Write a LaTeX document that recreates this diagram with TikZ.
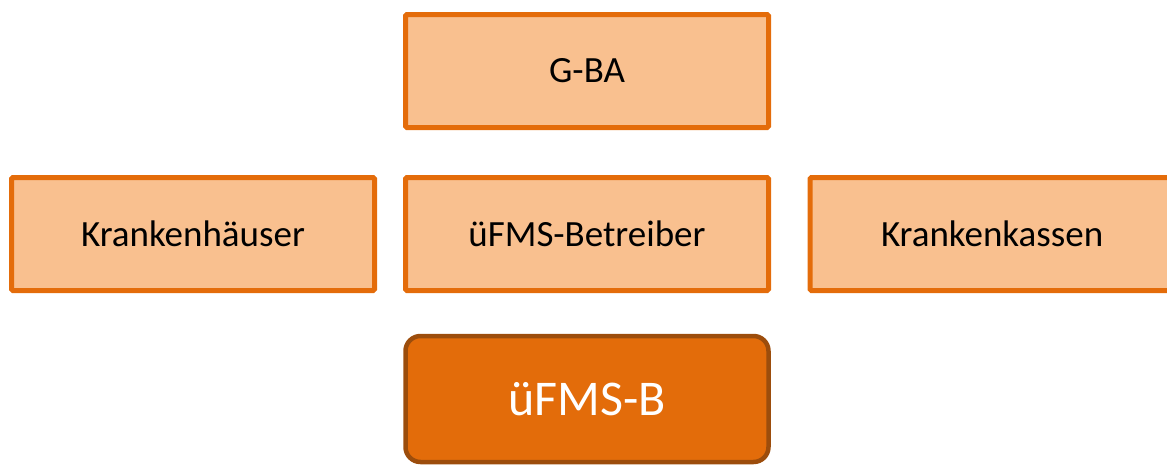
\documentclass[tikz,border=0pt]{standalone}
\usepackage{fontspec}
\setmainfont{Carlito}
\definecolor{lightfill}{HTML}{F9C08F}
\definecolor{orangeline}{HTML}{E46C0A}
\definecolor{darkfill}{HTML}{E36C0A}
\definecolor{brownline}{HTML}{9C4D0C}
\begin{document}
\begin{tikzpicture}[x=1pt,y=-1pt,
  lightbox/.style={draw=orangeline, fill=lightfill, line width=5pt, rounded corners=1.5pt,
    minimum width=363pt, minimum height=113pt, inner sep=0pt, font=\fontsize{37}{44}\selectfont, text=black},
  darkbox/.style={draw=brownline, fill=darkfill, line width=4.5pt, rounded corners=15pt,
    minimum width=363pt, minimum height=126pt, inner sep=0pt, font=\fontsize{50}{60}\selectfont, text=white}]
\useasboundingbox (0,0) rectangle (1167,464);
\clip (0,0) rectangle (1167,464);
\node[lightbox] (gba) at (587,71) {G-BA};
\node[lightbox] (kh) at (193,234) {Krankenhäuser};
\node[lightbox] (betr) at (587,234) {üFMS-Betreiber};
\node[lightbox, text width=363pt, align=left] (kk) at (991.5,234) {\hspace*{71pt}Krankenkassen};
\node[darkbox] (ufmsb) at (587,399) {üFMS-B};
\end{tikzpicture}
\end{document}
